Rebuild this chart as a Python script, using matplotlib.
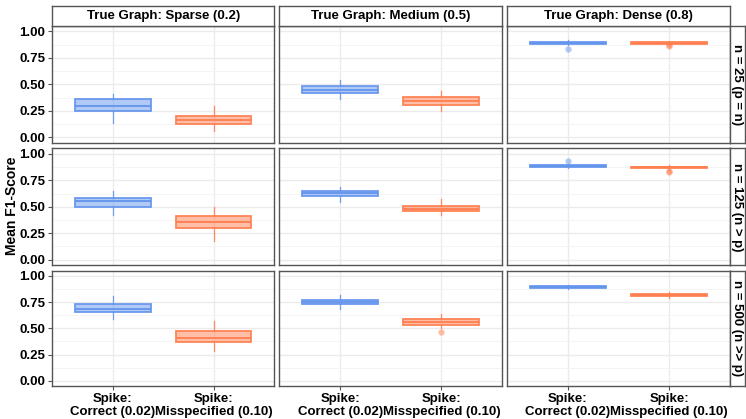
import numpy as np
import matplotlib
matplotlib.use("Agg")
import matplotlib.pyplot as plt

plt.rcParams['font.family'] = ['Liberation Sans', 'DejaVu Sans']

# facet labels
densities = ['True Graph: Sparse (0.2)', 'True Graph: Medium (0.5)', 'True Graph: Dense (0.8)']
sample_sizes = ['n = 25 (p = n)', 'n = 125 (n > p)', 'n = 500 (n >> p)']
groups = ['Spike:\nCorrect (0.02)', 'Spike:\nMisspecified (0.10)']

# box stats, rows = sample size, cols = density
correct_lo = [[0.14, 0.365, 0.872], [0.42, 0.546, 0.868], [0.59, 0.685, 0.875]]
correct_q1 = [[0.245, 0.42, 0.879], [0.497, 0.604, 0.879], [0.657, 0.733, 0.884]]
correct_med = [[0.30, 0.45, 0.889], [0.558, 0.626, 0.887], [0.682, 0.75, 0.893]]
correct_q3 = [[0.36, 0.48, 0.897], [0.587, 0.648, 0.895], [0.732, 0.774, 0.901]]
correct_hi = [[0.41, 0.54, 0.915], [0.65, 0.69, 0.905], [0.81, 0.817, 0.91]]
correct_out = [[[], [], [0.83]], [[], [], [0.93]], [[], [], []]]

misspec_lo = [[0.056, 0.25, 0.87], [0.173, 0.42, 0.85], [0.28, 0.505, 0.79]]
misspec_q1 = [[0.125, 0.31, 0.881], [0.30, 0.46, 0.864], [0.368, 0.534, 0.811]]
misspec_med = [[0.166, 0.345, 0.889], [0.357, 0.483, 0.872], [0.41, 0.562, 0.82]]
misspec_q3 = [[0.20, 0.38, 0.897], [0.41, 0.508, 0.88], [0.478, 0.59, 0.829]]
misspec_hi = [[0.30, 0.44, 0.91], [0.495, 0.57, 0.89], [0.57, 0.638, 0.85]]
misspec_out = [[[], [], [0.86, 0.87]], [[], [], [0.827, 0.835]], [[], [0.465], []]]

colors = ['#6495ED', '#FF7F50']
W, H = 746, 419
col_x = [(52.3, 274), (279.3, 502.3), (507.3, 729.7)]
row_y = [(26, 142.7), (148.5, 265), (270.7, 386)]

fig = plt.figure(figsize=(W / 100, H / 100), dpi=100)


def fr(x0, y0, x1, y1):
    return [x0 / W, 1 - y1 / H, (x1 - x0) / W, (y1 - y0) / H]


for i in range(3):
    for j in range(3):
        (x0, x1), (y0, y1) = col_x[j], row_y[i]
        ax = fig.add_axes(fr(x0, y0, x1, y1))
        stats = [
            dict(whislo=correct_lo[i][j], q1=correct_q1[i][j], med=correct_med[i][j],
                 q3=correct_q3[i][j], whishi=correct_hi[i][j], fliers=correct_out[i][j]),
            dict(whislo=misspec_lo[i][j], q1=misspec_q1[i][j], med=misspec_med[i][j],
                 q3=misspec_q3[i][j], whishi=misspec_hi[i][j], fliers=misspec_out[i][j]),
        ]
        for k, st in enumerate(stats):
            c = colors[k]
            ax.bxp([st], positions=[k + 1], widths=0.75, patch_artist=True,
                   showcaps=False, zorder=3,
                   boxprops=dict(facecolor=matplotlib.colors.to_rgba(c, 0.5),
                                 edgecolor=matplotlib.colors.to_rgba(c, 0.95), linewidth=1.3),
                   medianprops=dict(color=c, linewidth=1.4, alpha=0.95),
                   whiskerprops=dict(color=c, linewidth=0.9, alpha=0.9),
                   flierprops=dict(marker='o', markersize=4.5, markerfacecolor=c,
                                   markeredgecolor='none', alpha=0.5))
        ax.set_xlim(0.4, 2.6)
        ax.set_ylim(-0.05, 1.05)
        ax.set_yticks([0, 0.25, 0.5, 0.75, 1.0])
        ax.set_yticks([0.125, 0.375, 0.625, 0.875], minor=True)
        ax.set_xticks([1, 2])
        ax.grid(True, which='major', color='#EBEBEB', linewidth=1.0, zorder=0)
        ax.grid(True, which='minor', axis='y', color='#F3F3F3', linewidth=0.6, zorder=0)
        ax.set_axisbelow(True)
        for s in ax.spines.values():
            s.set_color('#555555')
            s.set_linewidth(1.0)
        ax.tick_params(which='minor', length=0)
        ax.tick_params(which='major', length=3, color='#555555', width=0.8, pad=2)
        if j == 0:
            ax.set_yticklabels(['0.00', '0.25', '0.50', '0.75', '1.00'],
                               fontsize=9.5, fontweight='bold', color='black')
        else:
            ax.tick_params(axis='y', labelleft=False, length=0)
        if i == 2:
            ax.set_xticklabels(groups, fontsize=9.5, fontweight='bold', color='black',
                               ha='center', multialignment='center', linespacing=1.1)
        else:
            ax.tick_params(axis='x', labelbottom=False, length=0)

# top strips
for j in range(3):
    (x0, x1) = col_x[j]
    sax = fig.add_axes(fr(x0, 6.5, x1, 26))
    sax.set_xticks([]); sax.set_yticks([])
    for s in sax.spines.values():
        s.set_color('#555555'); s.set_linewidth(1.0)
    sax.text(0.5, 0.5, densities[j], ha='center', va='center', fontsize=9.5,
             fontweight='bold', transform=sax.transAxes)

# right strips
for i in range(3):
    (y0, y1) = row_y[i]
    sax = fig.add_axes(fr(729.7, y0, 745, y1))
    sax.set_xticks([]); sax.set_yticks([])
    for s in sax.spines.values():
        s.set_color('#555555'); s.set_linewidth(1.0)
    sax.text(0.5, 0.5, sample_sizes[i], ha='center', va='center', fontsize=9.5,
             fontweight='bold', rotation=-90, transform=sax.transAxes)

fig.text(12 / W, 1 - 206 / H, 'Mean F1-Score', rotation=90, ha='center', va='center',
         fontsize=10, fontweight='bold')

fig.savefig('out.png', dpi=100)
